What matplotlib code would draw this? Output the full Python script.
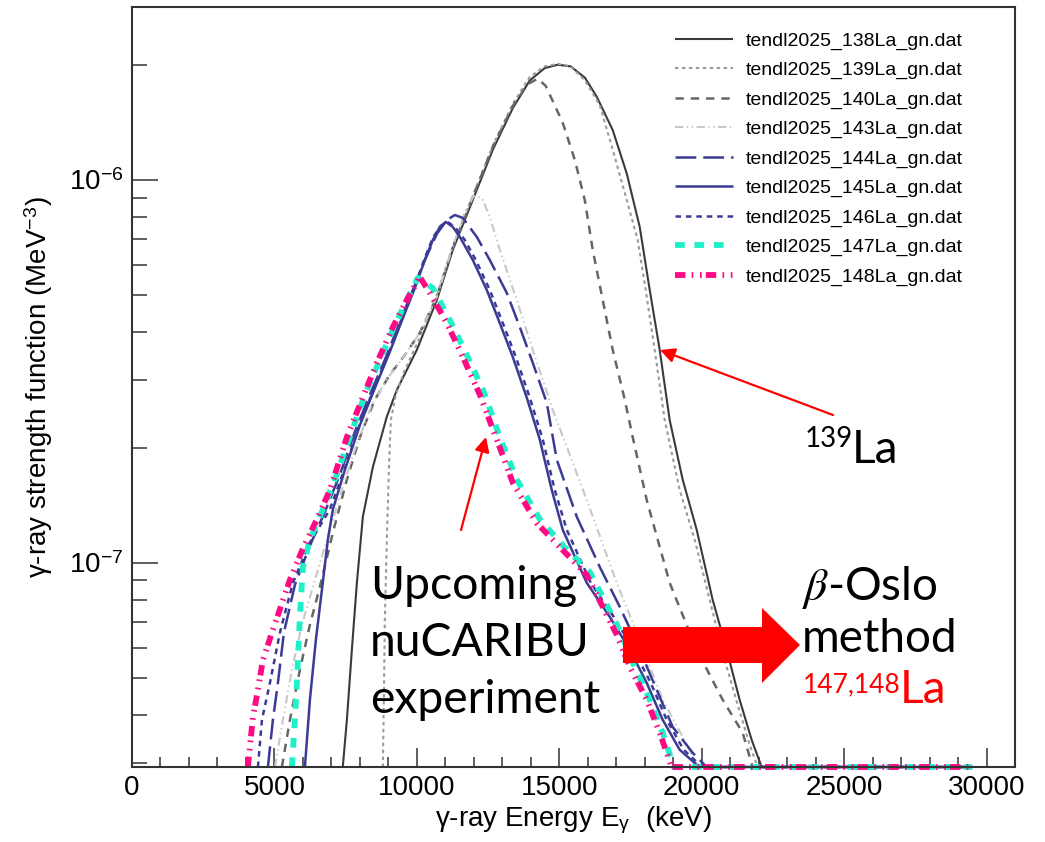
import matplotlib
matplotlib.use('Agg')
import matplotlib.pyplot as plt
from matplotlib.ticker import LogLocator, MultipleLocator, NullFormatter
from matplotlib.patches import Polygon, FancyArrowPatch
import numpy as np

W, H = 1045, 842
plt.rcParams['font.family'] = ['Liberation Sans', 'DejaVu Sans']
plt.rcParams['mathtext.fontset'] = 'stix'
plt.rcParams['lines.scale_dashes'] = False

Y_MIN, Y_MAX = 2.93e-8, 2.83e-6
X_MIN, X_MAX = 0, 31000

# gamma strength functions (E in keV, f in MeV^-3)
e_138 = [7400, 7544, 7719, 7895, 8105, 8456, 8947, 9298, 10000, 10702, 11263, 11965, 12667,
         13368, 13965, 14491, 14947, 15400, 15900, 16316, 16877, 17369, 17825, 18176, 18526, 18877,
         19333, 19825, 20386, 20877, 21333, 21754, 22105]
f_138 = [2e-8, 3.89e-8, 5.93e-8, 8.87e-8, 1.32e-7, 1.78e-7, 2.41e-7, 2.83e-7, 3.60e-7, 4.86e-7,
         6.57e-7, 8.87e-7, 1.20e-6, 1.54e-6, 1.82e-6, 1.96e-6, 2.00e-6, 1.98e-6, 1.85e-6, 1.65e-6,
         1.35e-6, 1.04e-6, 7.54e-7, 5.16e-7, 3.60e-7, 2.36e-7, 1.65e-7, 1.22e-7, 8.01e-8, 5.93e-8,
         4.39e-8, 3.45e-8, 2e-8]

e_139 = [8807, 8842, 8877, 8947, 9018, 9088, 9263, 9579, 10105, 10702, 11263, 11965, 12667,
         13368, 13965, 14491, 14947, 15400, 15900, 16421, 16877, 17369, 17755, 18035, 18351, 18702,
         19228, 19754, 20281, 20807, 21263, 21684, 21965]
f_139 = [2e-8, 4.39e-8, 7.10e-8, 1.15e-7, 1.75e-7, 2.36e-7, 2.75e-7, 3.19e-7, 3.87e-7, 5.01e-7,
         6.72e-7, 9.08e-7, 1.23e-6, 1.58e-6, 1.86e-6, 1.98e-6, 2.01e-6, 1.98e-6, 1.82e-6, 1.57e-6,
         1.20e-6, 8.87e-7, 6.97e-7, 5.16e-7, 3.60e-7, 2.36e-7, 1.55e-7, 1.15e-7, 8.01e-8, 5.58e-8,
         4.26e-8, 3.35e-8, 2e-8]

e_140 = [5263, 5544, 5895, 6246, 6597, 7053, 7544, 8000, 8526, 9053, 9579, 10105, 10702, 11263,
         11965, 12667, 13368, 13895, 14246, 14526, 15123, 15544, 15895, 16175, 16526, 16877,
         17298, 17579, 18070, 18877, 19825, 20737, 21439, 21789]
f_140 = [2e-8, 3.89e-8, 5.26e-8, 6.89e-8, 8.66e-8, 1.20e-7, 1.65e-7, 2.13e-7, 2.67e-7, 3.10e-7,
         3.49e-7, 3.99e-7, 4.95e-7, 6.64e-7, 9.03e-7, 1.22e-6, 1.56e-6, 1.78e-6, 1.84e-6, 1.76e-6,
         1.41e-6, 1.13e-6, 8.87e-7, 6.57e-7, 4.86e-7, 3.60e-7, 2.67e-7, 2.13e-7, 1.46e-7, 8.87e-8,
         5.93e-8, 4.39e-8, 3.60e-8, 2e-8]

e_143 = [5018, 5298, 5614, 5965, 6351, 6842, 7368, 7860, 8421, 8982, 9579, 10105, 10702, 11263,
         11684, 12000, 12281, 12561, 12912, 13509, 14070, 14772, 15263, 15965, 17018, 17719,
         18632, 19579, 19860]
f_143 = [2e-8, 3.89e-8, 5.26e-8, 6.89e-8, 8.66e-8, 1.15e-7, 1.55e-7, 2.01e-7, 2.59e-7, 3.04e-7,
         3.49e-7, 3.99e-7, 4.95e-7, 6.72e-7, 8.25e-7, 9.08e-7, 8.98e-7, 8.01e-7, 6.57e-7, 4.86e-7,
         3.60e-7, 2.51e-7, 2.01e-7, 1.46e-7, 8.87e-8, 6.57e-8, 4.39e-8, 3.25e-8, 2e-8]

e_144 = [4772, 4947, 5123, 5333, 5719, 6246, 6772, 7298, 7825, 8351, 8877, 9403, 9860, 10281,
         10702, 11053, 11333, 11614, 12105, 12561, 13158, 13614, 14070, 14561, 14912, 15614,
         16421, 17123, 17825, 18421, 18982, 19684, 20175, 29500]
f_144 = [2e-8, 3.89e-8, 4.86e-8, 6.57e-8, 8.76e-8, 1.11e-7, 1.36e-7, 1.70e-7, 2.20e-7, 2.75e-7,
         3.39e-7, 4.26e-7, 5.16e-7, 6.18e-7, 7.23e-7, 7.86e-7, 8.10e-7, 7.96e-7, 7.10e-7, 6.18e-7,
         5.07e-7, 4.13e-7, 3.33e-7, 2.62e-7, 1.86e-7, 1.32e-7, 9.76e-8, 7.68e-8, 5.93e-8, 4.66e-8,
         3.73e-8, 3.19e-8, 2e-8, 0]

e_145 = [6070, 6246, 6456, 6667, 6877, 7053, 7474, 8000, 8526, 9053, 9509, 9930, 10281, 10561,
         10807, 11018, 11263, 11509, 11965, 12456, 12912, 13368, 13860, 14316, 14737, 15123,
         15965, 16772, 17474, 18070, 18632, 19228, 19825, 20035, 29500]
f_145 = [2e-8, 4.39e-8, 6.30e-8, 8.50e-8, 1.15e-7, 1.38e-7, 1.75e-7, 2.29e-7, 2.86e-7, 3.56e-7,
         4.36e-7, 5.22e-7, 6.18e-7, 6.97e-7, 7.54e-7, 7.77e-7, 7.54e-7, 7.10e-7, 6.18e-7, 5.16e-7,
         4.23e-7, 3.45e-7, 2.70e-7, 2.10e-7, 1.55e-7, 1.22e-7, 8.87e-8, 7.23e-8, 5.93e-8, 4.86e-8,
         3.89e-8, 3.25e-8, 2.97e-8, 2e-8, 0]

e_146 = [4421, 4561, 4842, 5193, 5649, 6246, 6947, 7474, 8000, 8526, 9053, 9509, 9930, 10281,
         10561, 10842, 11088, 11368, 11684, 12070, 12561, 13018, 13474, 13965, 14421, 14842,
         15263, 16105, 16912, 17614, 18211, 18772, 19368, 19930, 20140, 29500]
f_146 = [2e-8, 3.89e-8, 4.86e-8, 6.57e-8, 8.87e-8, 1.13e-7, 1.38e-7, 1.77e-7, 2.31e-7, 2.89e-7,
         3.60e-7, 4.42e-7, 5.29e-7, 6.26e-7, 7.06e-7, 7.59e-7, 7.77e-7, 7.49e-7, 6.97e-7, 6.18e-7,
         5.16e-7, 4.23e-7, 3.45e-7, 2.70e-7, 2.10e-7, 1.55e-7, 1.22e-7, 8.87e-8, 7.23e-8, 5.93e-8,
         4.86e-8, 3.89e-8, 3.25e-8, 2.97e-8, 2e-8, 0]

e_147 = [5614, 5719, 5789, 5895, 6000, 6246, 6702, 7123, 7649, 8175, 8702, 9228, 9684, 10035,
         10561, 11158, 11754, 12351, 12912, 13509, 14316, 15228, 16070, 16667, 17158, 17614,
         18175, 18632, 19018, 29500]
f_147 = [2e-8, 3.89e-8, 4.86e-8, 7.23e-8, 9.76e-8, 1.15e-7, 1.38e-7, 1.65e-7, 2.13e-7, 2.75e-7,
         3.39e-7, 4.18e-7, 4.92e-7, 5.55e-7, 5.22e-7, 4.31e-7, 3.49e-7, 2.80e-7, 2.13e-7, 1.65e-7,
         1.30e-7, 1.09e-7, 9.47e-8, 7.77e-8, 6.57e-8, 5.42e-8, 4.39e-8, 3.60e-8, 2e-8, 0]

e_148 = [4070, 4246, 4421, 4596, 4947, 5544, 6000, 6491, 6947, 7544, 8105, 8596, 9158, 9649,
         10105, 10456, 11053, 11614, 12210, 12807, 13368, 14211, 15123, 15965, 16526, 17018,
         17474, 18070, 18526, 18947, 29500]
f_148 = [2e-8, 3.96e-8, 4.66e-8, 5.58e-8, 6.69e-8, 9.03e-8, 1.09e-7, 1.30e-7, 1.55e-7, 2.13e-7,
         2.71e-7, 3.33e-7, 4.13e-7, 4.86e-7, 5.58e-7, 5.07e-7, 4.23e-7, 3.45e-7, 2.75e-7, 2.10e-7,
         1.62e-7, 1.27e-7, 1.08e-7, 9.30e-8, 7.68e-8, 6.49e-8, 5.35e-8, 4.39e-8, 3.60e-8, 2e-8, 0]

labels = ['tendl2025_138La_gn.dat', 'tendl2025_139La_gn.dat', 'tendl2025_140La_gn.dat',
          'tendl2025_143La_gn.dat', 'tendl2025_144La_gn.dat', 'tendl2025_145La_gn.dat',
          'tendl2025_146La_gn.dat', 'tendl2025_147La_gn.dat', 'tendl2025_148La_gn.dat']

x_ticks = [0, 5000, 10000, 15000, 20000, 25000, 30000]
y_ticks = [1e-7, 1e-6]
y_ticklabels = ['10$^{\\mathregular{-7}}$', '10$^{\\mathregular{-6}}$']

BLUE = '#3b3b95'
styles = [
    dict(color='#3a3a3a', lw=1.5, ls='-'),
    dict(color='#9a9a9a', lw=1.5, dashes=(2.5, 2.5)),
    dict(color='#666666', lw=1.8, dashes=(6, 5)),
    dict(color='#c8c8c8', lw=1.5, dashes=(6, 2.5, 1, 2.5, 1, 2.5)),
    dict(color=BLUE, lw=1.8, dashes=(15, 5)),
    dict(color=BLUE, lw=1.8, ls='-'),
    dict(color=BLUE, lw=1.8, dashes=(4, 3.5)),
    dict(color='#1ef0c8', lw=4.2, dashes=(7, 7)),
    dict(color='#ff0a84', lw=4.2, dashes=(7.5, 4.5, 1.2, 4.8, 1.2, 3)),
]
series = [(e_138, f_138), (e_139, f_139), (e_140, f_140), (e_143, f_143), (e_144, f_144),
          (e_145, f_145), (e_146, f_146), (e_147, f_147), (e_148, f_148)]


def fx(x):
    return x / W


def fy(y):
    return 1 - y / H


fig = plt.figure(figsize=(W / 100, H / 100), dpi=100)
ax = fig.add_axes([132 / W, 1 - 767 / H, 883 / W, 760 / H])
ax.set_yscale('log')

for (e, f), lab, st in zip(series, labels, styles):
    # ROOT draws points below the minimum along the frame bottom
    ax.plot(e, np.clip(np.array(f, dtype=float), Y_MIN, None), label=lab, clip_on=False,
            solid_capstyle='butt', dash_capstyle='butt', **st)

ax.set_xlim(X_MIN, X_MAX)
ax.set_ylim(Y_MIN, Y_MAX)

ax.set_xticks(x_ticks)
ax.set_xticklabels([str(t) for t in x_ticks])
ax.xaxis.set_minor_locator(MultipleLocator(1000))
ax.set_yticks(y_ticks)
ax.set_yticklabels(y_ticklabels)
ax.yaxis.set_minor_locator(LogLocator(base=10, subs=np.arange(2, 10), numticks=20))
ax.yaxis.set_minor_formatter(NullFormatter())

ax.tick_params(axis='x', which='major', direction='in', length=14, width=1.1, color='#333333',
               labelsize=20, pad=6, top=False)
ax.tick_params(axis='x', which='minor', direction='in', length=7, width=1.1, color='#333333', top=False)
ax.tick_params(axis='y', which='major', direction='in', length=19, width=1.1, color='#333333',
               labelsize=20, pad=6, right=False)
ax.tick_params(axis='y', which='minor', direction='in', length=10.5, width=1.1, color='#333333',
               right=False)
for sp in ax.spines.values():
    sp.set_color('#333333')
    sp.set_linewidth(1.5)

ax.set_xlabel('γ-ray Energy E$_{\\mathregular{γ}}$  (keV)', fontsize=20)
ax.xaxis.set_label_coords(0.5, -0.049)
ax.set_ylabel('γ-ray strength function (MeV$^{\\mathregular{-3}}$)', fontsize=20)
ax.yaxis.set_label_coords(-0.087, 0.5)

ax.legend(prop={'size': 14}, frameon=False, loc='upper left',
          bbox_to_anchor=(fx(675), fy(32)), bbox_transform=fig.transFigure,
          borderpad=0, borderaxespad=0, handlelength=3.0, handletextpad=0.65, labelspacing=0.6)

# annotations
ANN = ['Lato', 'DejaVu Sans']
for txt, yb in [('Upcoming', 599), ('nuCARIBU', 656), ('experiment', 713)]:
    fig.text(fx(370), fy(yb), txt, fontsize=33.3, family=ANN, va='baseline')
fig.text(fx(805), fy(447), '139', fontsize=20, family=ANN, va='baseline')
fig.text(fx(852), fy(463), 'La', fontsize=33, family=ANN, va='baseline')
fig.text(fx(802), fy(600), '$\\beta$-Oslo', fontsize=33, family=ANN, va='baseline')
fig.text(fx(802), fy(652), 'method', fontsize=33, family=ANN, va='baseline')
fig.text(fx(803), fy(692), '147,148', fontsize=19, family=ANN, va='baseline', color='#ff0000')
fig.text(fx(900), fy(703), 'La', fontsize=33, family=ANN, va='baseline', color='#ff0000')

arrow_kw = dict(arrowstyle='-|>', color='#ff0000', lw=1.6, mutation_scale=22, shrinkA=0, shrinkB=0)
fig.add_artist(FancyArrowPatch((fx(833), fy(415)), (fx(660), fy(350)),
                               transform=fig.transFigure, **arrow_kw))
fig.add_artist(FancyArrowPatch((fx(461), fy(530)), (fx(486), fy(437)),
                               transform=fig.transFigure, **arrow_kw))

big = [(623, 627), (762, 627), (762, 608), (800, 645), (762, 683), (762, 663), (623, 663)]
fig.add_artist(Polygon([(fx(a), fy(b)) for a, b in big], closed=True, transform=fig.transFigure,
                       fc='#ff0000', ec='none', zorder=5))

fig.savefig('out.png', dpi=100)
